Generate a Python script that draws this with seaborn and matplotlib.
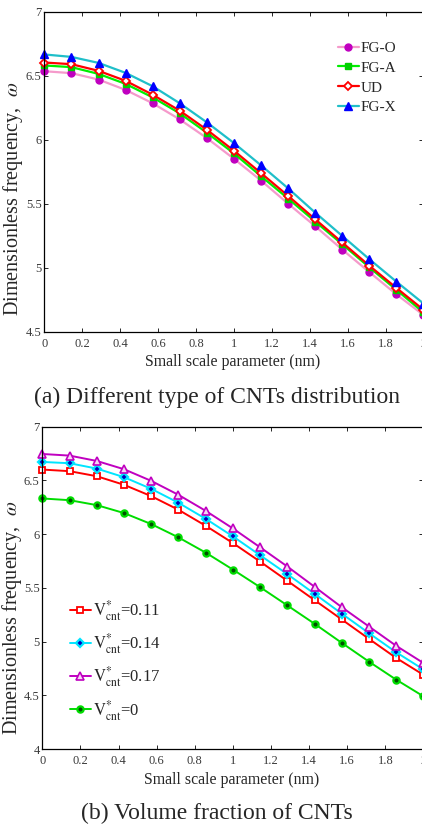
import numpy as np
import pandas as pd
import matplotlib
matplotlib.use("Agg")
import matplotlib.pyplot as plt
import seaborn as sns

# Small scale parameter (nm), 15 stations
scale_nm = [0.0, 0.143, 0.286, 0.429, 0.571, 0.714, 0.857, 1.0,
            1.143, 1.286, 1.429, 1.571, 1.714, 1.857, 2.0]

# (a) CNT distribution types
fg_o = [6.535, 6.520, 6.470, 6.389, 6.285, 6.159, 6.013, 5.851,
        5.681, 5.500, 5.324, 5.142, 4.966, 4.792, 4.630]
fg_a = [6.580, 6.567, 6.514, 6.436, 6.331, 6.206, 6.055, 5.893,
        5.715, 5.540, 5.360, 5.184, 5.003, 4.827, 4.650]
ud = [6.603, 6.590, 6.538, 6.460, 6.352, 6.227, 6.078, 5.914,
      5.739, 5.561, 5.378, 5.197, 5.016, 4.842, 4.671]
fg_x = [6.666, 6.647, 6.600, 6.522, 6.418, 6.285, 6.136, 5.974,
        5.800, 5.620, 5.430, 5.249, 5.067, 4.891, 4.720]

# (b) CNT volume fraction
v_011 = [6.601, 6.586, 6.539, 6.459, 6.354, 6.227, 6.078, 5.917,
         5.744, 5.565, 5.385, 5.206, 5.025, 4.847, 4.690]
v_014 = [6.672, 6.660, 6.610, 6.530, 6.422, 6.292, 6.143, 5.979,
         5.803, 5.627, 5.444, 5.260, 5.078, 4.900, 4.740]
v_017 = [6.746, 6.731, 6.681, 6.604, 6.496, 6.366, 6.217, 6.053,
         5.877, 5.698, 5.509, 5.320, 5.140, 4.960, 4.800]
v_000 = [6.332, 6.316, 6.270, 6.196, 6.094, 5.970, 5.828, 5.670,
         5.506, 5.336, 5.165, 4.988, 4.813, 4.645, 4.490]

x_ticks = [0, 0.2, 0.4, 0.6, 0.8, 1.0, 1.2, 1.4, 1.6, 1.8, 2.0]
x_ticklabels = ["0", "0.2", "0.4", "0.6", "0.8", "1", "1.2", "1.4", "1.6", "1.8", "2"]
ya_ticks = [4.5, 5.0, 5.5, 6.0, 6.5, 7.0]
ya_ticklabels = ["4.5", "5", "5.5", "6", "6.5", "7"]
yb_ticks = [4.0, 4.5, 5.0, 5.5, 6.0, 6.5, 7.0]
yb_ticklabels = ["4", "4.5", "5", "5.5", "6", "6.5", "7"]

sns.set_style("ticks")
plt.rcParams["font.family"] = ["Liberation Serif", "DejaVu Serif"]
plt.rcParams["mathtext.fontset"] = "stix"

fig = plt.figure(figsize=(4.22, 8.25), dpi=100)
W, H = 422.0, 825.0


def px_axes(left, right, top, bottom):
    return fig.add_axes([left / W, 1 - bottom / H, (right - left) / W, (bottom - top) / H])


ax_a = px_axes(44.3, 423.5, 11.7, 331.7)
ax_b = px_axes(42.3, 423.5, 426.7, 749.0)

series_a = [
    ("FG-O", fg_o, dict(color="#f59acb", marker="o", mfc="#c000c0", mec="#c000c0", ms=5.0)),
    ("FG-A", fg_a, dict(color="#00ee00", marker="s", mfc="#00d000", mec="#00d000", ms=4.5)),
    ("UD", ud, dict(color="#ff0000", marker="D", mfc="white", mec="#ff0000", ms=4.0, mew=1.3)),
    ("FG-X", fg_x, dict(color="#1fbfc9", marker="^", mfc="#0000ff", mec="#0000ff", ms=5.5)),
]
for name, vals, st in series_a:
    df = pd.DataFrame({"scale": scale_nm, "freq": vals})
    sns.lineplot(data=df, x="scale", y="freq", ax=ax_a, label=name, lw=1.6,
                 color=st["color"], marker=st["marker"], markersize=st["ms"],
                 markerfacecolor=st["mfc"], markeredgecolor=st["mec"],
                 markeredgewidth=st.get("mew", 1.0), clip_on=False)

vlab = r"$\mathrm{V}^{*}_{\mathrm{cnt}}$"
series_b = [
    (vlab + "=0.11", v_011, dict(color="#ff0000", marker="s", mfc="white", mec="#ff0000", ms=4.5, mew=1.3)),
    (vlab + "=0.14", v_014, dict(color="#00e5ff", marker="D", mfc="#0000c0", mec="#00e5ff", ms=4.5, mew=1.6)),
    (vlab + "=0.17", v_017, dict(color="#c000c0", marker="^", mfc="#f4d6f4", mec="#c000c0", ms=5.5, mew=1.2)),
    (vlab + "=0", v_000, dict(color="#00dd00", marker="o", mfc="#005000", mec="#00dd00", ms=4.5, mew=1.6)),
]
for name, vals, st in series_b:
    df = pd.DataFrame({"scale": scale_nm, "freq": vals})
    sns.lineplot(data=df, x="scale", y="freq", ax=ax_b, label=name, lw=1.4,
                 color=st["color"], marker=st["marker"], markersize=st["ms"],
                 markerfacecolor=st["mfc"], markeredgecolor=st["mec"],
                 markeredgewidth=st.get("mew", 1.0), clip_on=False)

for ax, yt, ytl, ylim in [(ax_a, ya_ticks, ya_ticklabels, (4.5, 7.0)),
                          (ax_b, yb_ticks, yb_ticklabels, (4.0, 7.0))]:
    ax.set_xlim(0, 2)
    ax.set_ylim(*ylim)
    ax.set_xticks(x_ticks)
    ax.set_xticklabels(x_ticklabels)
    ax.set_yticks(yt)
    ax.set_yticklabels(ytl)
    ax.set_xlabel("")
    ax.set_ylabel("")
    ax.tick_params(direction="in", length=3, width=0.7, top=True, right=True,
                   labelsize=9, labelcolor="#3a3a3a")
    ax.tick_params(axis="x", pad=4.5)
    ax.tick_params(axis="y", pad=2)
    for sp in ax.spines.values():
        sp.set_linewidth(0.9)
        sp.set_color("black")

ax_a.legend(loc="upper left", bbox_to_anchor=(338 / W, 1 - 41.5 / H), bbox_transform=fig.transFigure,
            frameon=False, fontsize=11, handlelength=1.35, handletextpad=0.15,
            labelspacing=0.39, borderpad=0, borderaxespad=0)
ax_b.legend(loc="upper left", bbox_to_anchor=(70 / W, 1 - 598 / H), bbox_transform=fig.transFigure,
            frameon=False, fontsize=12, handlelength=1.25, handletextpad=0.15,
            labelspacing=0.51, borderpad=0, borderaxespad=0)

ylabel = r"Dimensionless frequency,  $\omega$"
fig.text(13 / W, 1 - 199 / H, ylabel, rotation=90, ha="center", va="center", fontsize=14.5)
fig.text(12 / W, 1 - 618 / H, ylabel, rotation=90, ha="center", va="center", fontsize=14.5)
fig.text(233 / W, 1 - 362 / H, "Small scale parameter (nm)", ha="center", va="center", fontsize=11.4)
fig.text(232 / W, 1 - 780 / H, "Small scale parameter (nm)", ha="center", va="center", fontsize=11.4)
fig.text(217 / W, 1 - 397 / H, "(a) Different type of CNTs distribution", ha="center", va="center", fontsize=17)
fig.text(217 / W, 1 - 813 / H, "(b) Volume fraction of CNTs", ha="center", va="center", fontsize=17)

fig.savefig("out.png", dpi=100, facecolor="white")
